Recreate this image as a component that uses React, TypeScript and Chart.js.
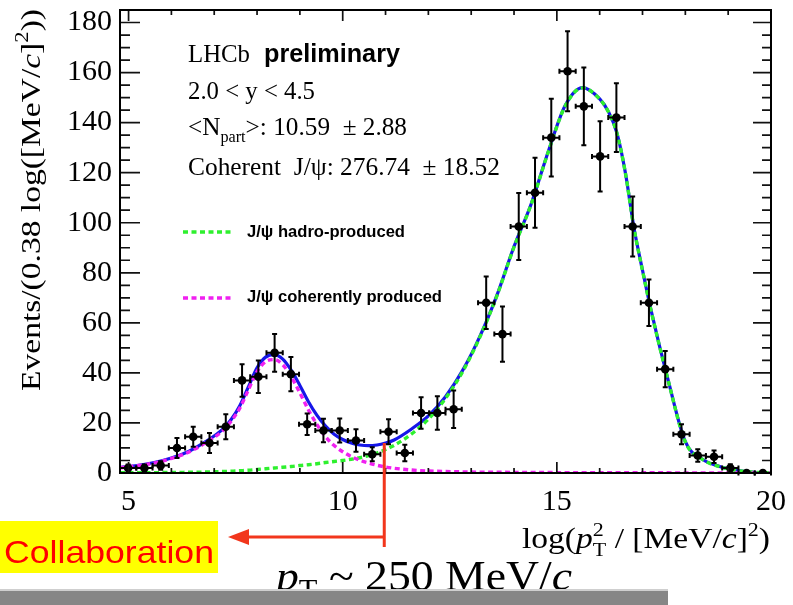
import React, { useEffect, useRef } from 'react';
import { Chart, registerables } from 'chart.js';

Chart.register(...registerables);

// Binned candidates: bin centres in log(pT^2), event counts and their uncertainties
const binCenters = [4.99, 5.37, 5.75, 6.13, 6.51, 6.89, 7.27, 7.65, 8.03, 8.41, 8.79, 9.17, 9.55, 9.93, 10.31, 10.69, 11.07, 11.45, 11.83, 12.21, 12.59, 12.97, 13.35, 13.73, 14.11, 14.49, 14.87, 15.25, 15.63, 16.01, 16.39, 16.77, 17.15, 17.53, 17.91, 18.29, 18.67, 19.05, 19.43, 19.81];
const eventCounts: (number | null)[] = [2, 2, 3, 10, 14.5, 12, 18.5, 37, 38.5, 48, 39.5, 19.5, 17, 17, 13, 7.5, 16.5, 8, 24, 24, 25.5, null, 68, 55.5, 98.5, 112, 134, 160.5, 146.5, 126.5, 142, 98.5, 68, 41.5, 15.5, 7, 6.5, 2, 0, 0];
const countErrors: (number | null)[] = [1.4, 1.4, 1.7, 4, 4, 4, 5, 6.5, 6.5, 7.5, 6.8, 4.3, 4.7, 4.8, 4.5, 2.8, 5, 3.3, 6.3, 6.7, 7.5, null, 10.5, 11, 13.4, 14, 15.5, 16, 15.5, 14, 13.7, 12, 9.3, 7.2, 4, 2.5, 2.5, 1.5, 0, 0];
const binHalfWidth = 0.19;

// Fit curves sampled along log(pT^2)
const curveX = [4.8, 5.2, 5.6, 6.0, 6.4, 6.8, 7.2, 7.4, 7.6, 7.8, 8.0, 8.2, 8.4, 8.6, 8.8, 9.0, 9.2, 9.4, 9.6, 9.8, 10.0, 10.2, 10.4, 10.6, 10.8, 11.0, 11.2, 11.6, 12.0, 12.4, 12.8, 13.2, 13.6, 14.0, 14.4, 14.8, 15.2, 15.6, 16.0, 16.2, 16.4, 16.6, 16.8, 17.0, 17.2, 17.6, 18.0, 18.4, 18.8, 19.2, 19.6, 20.0];
const totalFit = [2.2, 3.0, 4.2, 6.0, 8.6, 12.5, 17.5, 21.5, 27, 34.5, 42, 46.3, 47.3, 45.5, 41, 35, 28.5, 23, 18.7, 15.5, 13.4, 12, 11.2, 10.9, 11.2, 12, 13.2, 17.5, 22.8, 30.5, 41, 54.5, 71, 90.5, 107.5, 128.5, 147, 154, 149.5, 144.5, 136, 120, 98, 81, 65, 37, 12.5, 5.5, 2.6, 1.1, 0.3, 0.1];
const hadroFit = [0.1, 0.1, 0.15, 0.2, 0.3, 0.4, 0.6, 0.7, 0.9, 1.1, 1.4, 1.7, 2.0, 2.3, 2.6, 3.0, 3.3, 3.7, 4.2, 4.6, 5.0, 5.5, 6.1, 6.9, 8.0, 9.4, 11.0, 15.5, 21.5, 29.8, 40.5, 54.2, 70.8, 90.3, 107.3, 128.3, 146.8, 153.9, 149.4, 144.4, 135.9, 119.9, 97.9, 80.9, 64.9, 36.9, 12.4, 5.4, 2.5, 1.0, 0.3, 0.1];
const coherentFit = [2.1, 2.9, 4.0, 5.8, 8.3, 12.1, 16.9, 20.8, 26, 33.3, 40.5, 44.5, 45.3, 43.2, 38.4, 32, 25.2, 19.3, 14.5, 11, 8.5, 6.6, 5.1, 4.0, 3.1, 2.4, 1.9, 1.2, 0.8, 0.6, 0.45, 0.35, 0.3, 0.25, 0.2, 0.18, 0.15, 0.13, 0.12, 0.11, 0.1, 0.1, 0.09, 0.09, 0.08, 0.07, 0.06, 0.06, 0.05, 0.05, 0.04, 0.04];

// Axis ranges and tick labels
const xRange = [4.8, 20];
const yRange = [0, 185];
const xTickLabels = [5, 10, 15, 20];
const yTickLabels = [0, 20, 40, 60, 80, 100, 120, 140, 160, 180];
const xMinorStep = 1;
const yMinorStep = 5;

// pT ~ 250 MeV/c cut marker, in log(pT^2) and event units
const cutX = 10.97;
const cutY = 12;

const SERIF = '"Liberation Serif", "Times New Roman", serif';
const SANS = '"Liberation Sans", Arial, sans-serif';
const serif = (size: number, italic = false) => `${italic ? 'italic ' : ''}${size}px ${SERIF}`;
const sansBold = (size: number) => `bold ${size}px ${SANS}`;
const sans = (size: number) => `${size}px ${SANS}`;

type Run = { t: string; font: string; dy?: number; noAdvance?: boolean };

function runsWidth(ctx: CanvasRenderingContext2D, runs: Run[]) {
  let w = 0;
  for (const r of runs) {
    ctx.font = r.font;
    if (!r.noAdvance) w += ctx.measureText(r.t).width;
  }
  return w;
}

// Draws a sequence of text runs from (x, y) along the baseline, optionally stretched to a given length
function drawRuns(ctx: CanvasRenderingContext2D, runs: Run[], x: number, y: number, fit?: number, color = '#000') {
  const w = runsWidth(ctx, runs);
  const sx = fit ? fit / w : 1;
  ctx.save();
  ctx.translate(x, y);
  ctx.scale(sx, 1);
  ctx.fillStyle = color;
  ctx.textBaseline = 'alphabetic';
  ctx.textAlign = 'left';
  let cx = 0;
  for (const r of runs) {
    ctx.font = r.font;
    ctx.fillText(r.t, cx, r.dy || 0);
    if (!r.noAdvance) cx += ctx.measureText(r.t).width;
  }
  ctx.restore();
}

export default function App() {
  const canvasRef = useRef<HTMLCanvasElement | null>(null);

  useEffect(() => {
    const canvas = canvasRef.current;
    if (!canvas) return;

    const points = binCenters
      .map((x, i) => ({ x, y: eventCounts[i], err: countErrors[i] }))
      .filter((p) => p.y !== null) as { x: number; y: number; err: number }[];
    const curve = (vals: number[]) => curveX.map((x, i) => ({ x, y: vals[i] }));

    const decor = {
      id: 'plotDecor',
      afterDatasetsDraw(chart: any) {
        const { ctx } = chart;
        const xs = chart.scales.x;
        const ys = chart.scales.y;
        ctx.save();
        ctx.strokeStyle = '#000';
        ctx.lineWidth = 2;
        for (const p of points) {
          const px = xs.getPixelForValue(p.x);
          const py = ys.getPixelForValue(p.y);
          const xl = xs.getPixelForValue(p.x - binHalfWidth);
          const xr = xs.getPixelForValue(p.x + binHalfWidth);
          ctx.beginPath();
          ctx.moveTo(xl, py);
          ctx.lineTo(xr, py);
          ctx.moveTo(xl, py - 2.5);
          ctx.lineTo(xl, py + 2.5);
          ctx.moveTo(xr, py - 2.5);
          ctx.lineTo(xr, py + 2.5);
          if (p.err > 0) {
            const yt = ys.getPixelForValue(p.y + p.err);
            const yb = ys.getPixelForValue(Math.max(0, p.y - p.err));
            ctx.moveTo(px, yt);
            ctx.lineTo(px, yb);
            ctx.moveTo(px - 2.5, yt);
            ctx.lineTo(px + 2.5, yt);
            ctx.moveTo(px - 2.5, yb);
            ctx.lineTo(px + 2.5, yb);
          }
          ctx.stroke();
        }
        ctx.restore();
      },
      afterDraw(chart: any) {
        const { ctx, chartArea } = chart;
        const { left, right, top, bottom } = chartArea;
        const xs = chart.scales.x;
        const ys = chart.scales.y;
        ctx.save();

        // inward ticks on all four sides
        ctx.strokeStyle = '#111';
        ctx.lineWidth = 1.7;
        ctx.beginPath();
        for (let v = yRange[0]; v <= yRange[1] + 1e-6; v += yMinorStep) {
          const py = ys.getPixelForValue(v);
          const major = v % 20 === 0;
          ctx.moveTo(left, py);
          ctx.lineTo(left + (major ? 20 : 10), py);
          ctx.moveTo(right, py);
          ctx.lineTo(right - (major ? 18 : 9), py);
        }
        for (let v = Math.ceil(xRange[0]); v <= xRange[1] + 1e-6; v += xMinorStep) {
          const px = xs.getPixelForValue(v);
          const major = v % 5 === 0;
          ctx.moveTo(px, bottom);
          ctx.lineTo(px, bottom - (major ? 11 : 5));
          ctx.moveTo(px, top);
          ctx.lineTo(px, top + (major ? 11 : 5));
        }
        ctx.stroke();

        // frame
        ctx.lineWidth = 2;
        ctx.strokeStyle = '#000';
        ctx.strokeRect(left, top, right - left, bottom - top);

        // text block
        drawRuns(ctx, [{ t: 'LHCb', font: serif(25) }], 188, 62, 62);
        drawRuns(ctx, [{ t: 'preliminary', font: sansBold(25) }], 264, 62, 136);
        drawRuns(ctx, [{ t: '2.0 < y < 4.5', font: serif(25) }], 188, 99, 127);
        drawRuns(
          ctx,
          [
            { t: '<N', font: serif(25) },
            { t: 'part', font: serif(16), dy: 7 },
            { t: '>: 10.59  ± 2.88', font: serif(25) },
          ],
          188,
          135,
          219
        );
        drawRuns(ctx, [{ t: 'Coherent  J/ψ: 276.74  ± 18.52', font: serif(25) }], 188, 175, 312);

        // legend entries
        ctx.lineWidth = 3.5;
        ctx.setLineDash([5, 3.5]);
        ctx.strokeStyle = '#2ef02e';
        ctx.beginPath();
        ctx.moveTo(183, 232);
        ctx.lineTo(234, 232);
        ctx.stroke();
        ctx.strokeStyle = '#f020f0';
        ctx.beginPath();
        ctx.moveTo(183, 298);
        ctx.lineTo(234, 298);
        ctx.stroke();
        ctx.setLineDash([]);
        drawRuns(ctx, [{ t: 'J/ψ hadro-produced', font: sansBold(16) }], 247, 237, 158);
        drawRuns(ctx, [{ t: 'J/ψ coherently produced', font: sansBold(16) }], 247, 302, 195);

        // y-axis title
        const yTitle: Run[] = [
          { t: 'Events/(0.38 log([MeV/', font: serif(28) },
          { t: 'c', font: serif(28, true) },
          { t: ']', font: serif(28) },
          { t: '2', font: serif(19), dy: -12 },
          { t: '))', font: serif(28) },
        ];
        ctx.save();
        ctx.translate(40, 391);
        ctx.rotate(-Math.PI / 2);
        drawRuns(ctx, yTitle, 0, 0, 382);
        ctx.restore();

        // x-axis title
        drawRuns(
          ctx,
          [
            { t: 'log(', font: serif(29) },
            { t: 'p', font: serif(29, true) },
            { t: '2', font: serif(19), dy: -12, noAdvance: true },
            { t: 'T', font: serif(19), dy: 8 },
            { t: ' / [MeV/', font: serif(29) },
            { t: 'c', font: serif(29, true) },
            { t: ']', font: serif(29) },
            { t: '2', font: serif(19), dy: -12 },
            { t: ')', font: serif(29) },
          ],
          522,
          548,
          248
        );

        // pT cut marker with arrow
        const cx = xs.getPixelForValue(cutX);
        const cy = ys.getPixelForValue(cutY);
        ctx.strokeStyle = '#f2361c';
        ctx.fillStyle = '#f2361c';
        ctx.lineWidth = 3;
        ctx.beginPath();
        ctx.moveTo(cx, cy);
        ctx.lineTo(cx, 547);
        ctx.moveTo(cx, 537);
        ctx.lineTo(246, 537);
        ctx.stroke();
        ctx.beginPath();
        ctx.moveTo(228, 537);
        ctx.lineTo(249, 529);
        ctx.lineTo(249, 545);
        ctx.closePath();
        ctx.fill();

        // label box
        ctx.fillStyle = '#ffff00';
        ctx.fillRect(0, 521, 218, 52);
        drawRuns(ctx, [{ t: 'Collaboration', font: sans(32) }], 4, 563, 210, '#ff0000');

        // pT ~ 250 MeV/c
        drawRuns(
          ctx,
          [
            { t: 'p', font: serif(42, true) },
            { t: 'T', font: serif(28), dy: 8 },
            { t: ' ~ 250 MeV/', font: serif(42) },
            { t: 'c', font: serif(42, true) },
          ],
          276,
          590,
          296
        );

        // grey strip along the bottom
        ctx.fillStyle = '#cfcfcf';
        ctx.fillRect(0, 589, 668, 2);
        ctx.fillStyle = '#868686';
        ctx.fillRect(0, 591, 668, 14);

        ctx.restore();
      },
    };

    const chart = new Chart(canvas, {
      type: 'scatter',
      data: {
        datasets: [
          {
            type: 'scatter',
            label: 'Data',
            data: points,
            pointRadius: 4.3,
            pointBackgroundColor: '#000',
            pointBorderColor: '#000',
            pointBorderWidth: 0,
            order: 0,
          },
          {
            type: 'line',
            label: 'J/ψ coherently produced',
            data: curve(coherentFit),
            borderColor: '#f020f0',
            borderWidth: 3.4,
            borderDash: [5, 3.5],
            pointRadius: 0,
            fill: false,
            cubicInterpolationMode: 'monotone',
            order: 1,
          },
          {
            type: 'line',
            label: 'J/ψ hadro-produced',
            data: curve(hadroFit),
            borderColor: '#2ef02e',
            borderWidth: 3.4,
            borderDash: [5, 3.5],
            pointRadius: 0,
            fill: false,
            cubicInterpolationMode: 'monotone',
            order: 2,
          },
          {
            type: 'line',
            label: 'Total fit',
            data: curve(totalFit),
            borderColor: '#1616e8',
            borderWidth: 3.2,
            pointRadius: 0,
            fill: false,
            cubicInterpolationMode: 'monotone',
            order: 3,
          },
        ],
      } as any,
      options: {
        responsive: false,
        animation: false,
        devicePixelRatio: 1,
        events: [],
        layout: { padding: { left: 0, right: 22, top: 10, bottom: 0 } },
        plugins: { legend: { display: false }, tooltip: { enabled: false } },
        scales: {
          x: {
            type: 'linear',
            min: xRange[0],
            max: xRange[1],
            grid: { display: false, drawTicks: false },
            border: { display: false },
            ticks: {
              font: { family: SERIF, size: 30 },
              color: '#000',
              padding: 11,
              maxRotation: 0,
              autoSkip: false,
            },
            afterBuildTicks: (s: any) => {
              s.ticks = xTickLabels.map((v) => ({ value: v }));
            },
            afterFit: (s: any) => {
              s.height = 132;
              s.paddingLeft = 0;
              s.paddingRight = 0;
            },
          },
          y: {
            type: 'linear',
            min: yRange[0],
            max: yRange[1],
            grid: { display: false, drawTicks: false },
            border: { display: false },
            ticks: {
              font: { family: SERIF, size: 30 },
              color: '#000',
              padding: 8,
              autoSkip: false,
            },
            afterBuildTicks: (s: any) => {
              s.ticks = yTickLabels.map((v) => ({ value: v }));
            },
            afterFit: (s: any) => {
              s.width = 120;
              s.paddingTop = 0;
              s.paddingBottom = 0;
            },
          },
        },
      } as any,
      plugins: [decor],
    });

    return () => chart.destroy();
  }, []);

  return (
    <div style={{ position: 'fixed', left: 0, top: 0, width: 793, height: 605, background: '#fff' }}>
      <canvas ref={canvasRef} width={793} height={605} style={{ display: 'block', width: '793px', height: '605px' }} />
    </div>
  );
}
